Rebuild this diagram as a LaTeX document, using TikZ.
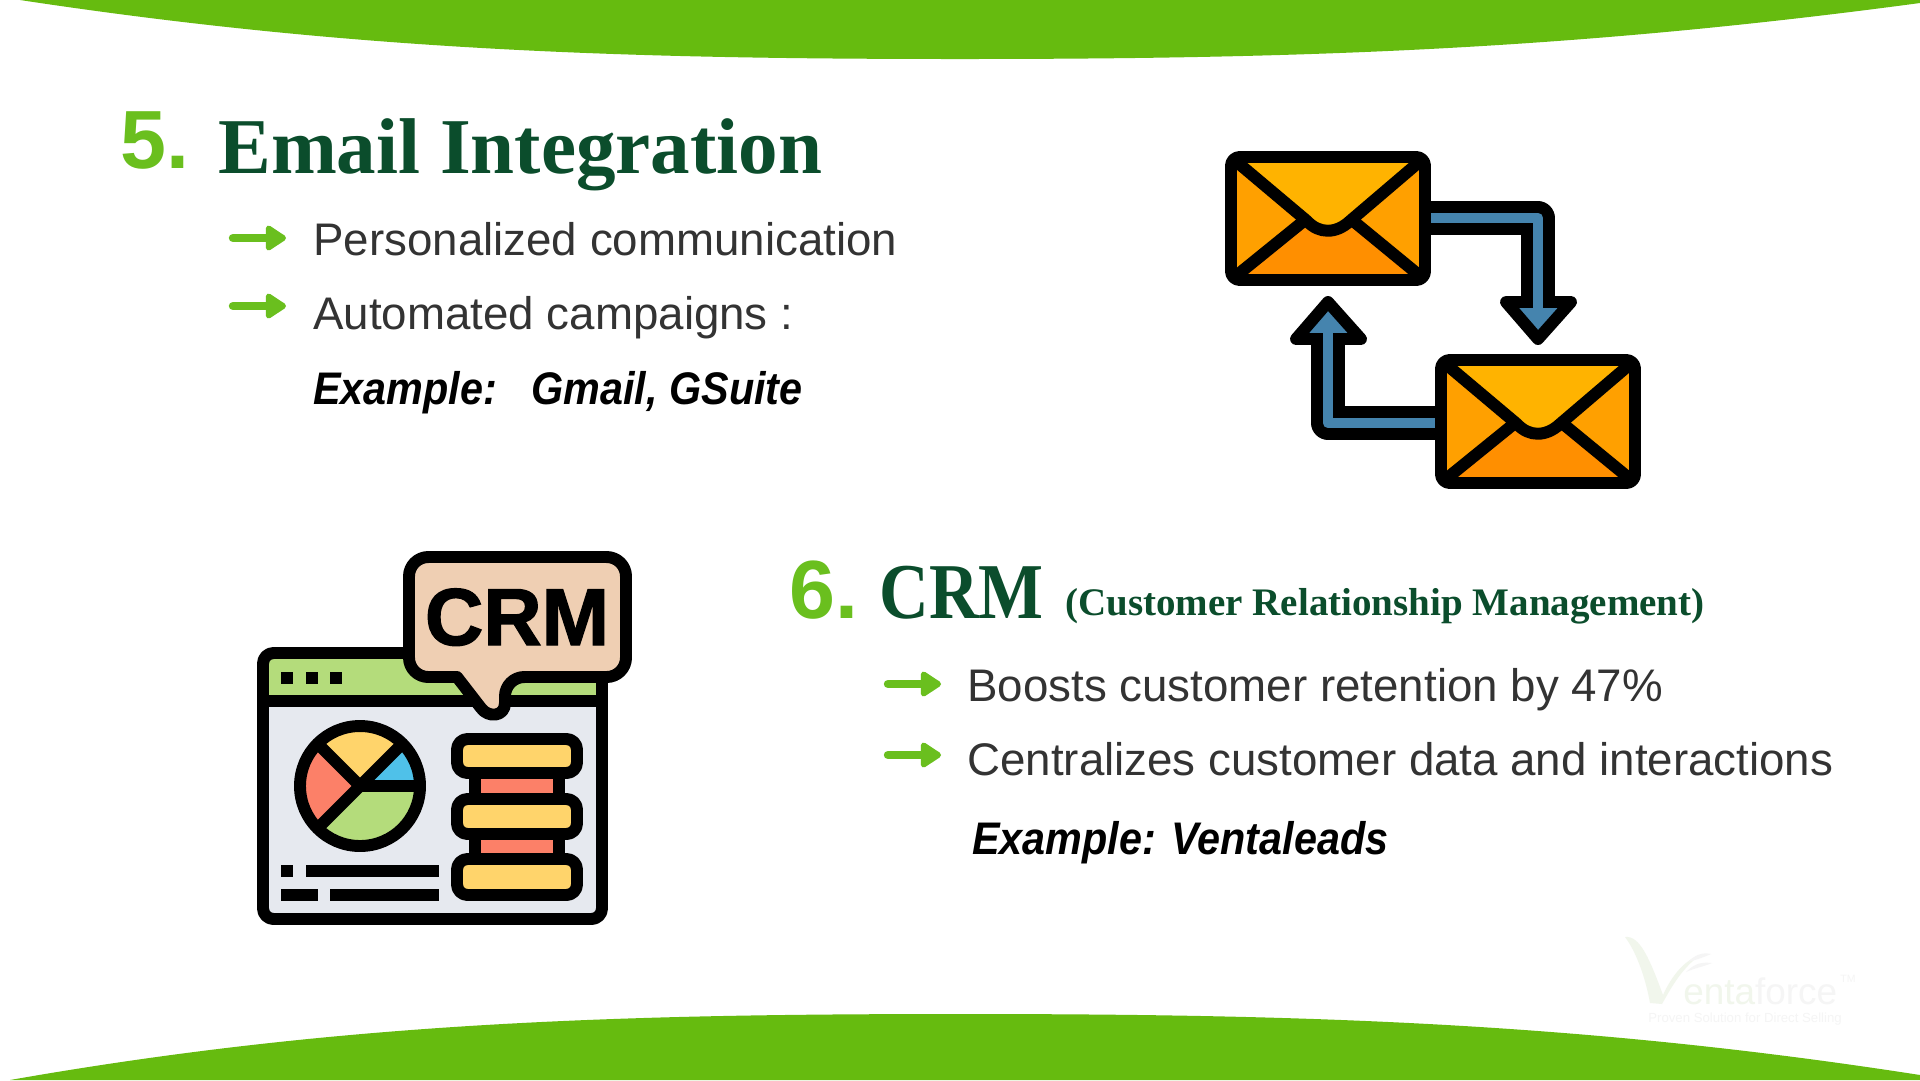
\documentclass[tikz,border=0pt]{standalone}
\usepackage{fontspec}
\usetikzlibrary{arrows.meta}
\setmainfont{Liberation Sans}
\newfontfamily\titlefont{Liberation Serif}
\newfontfamily\crmfont[FakeStretch=0.87]{Liberation Serif}
\newfontfamily\examplefont[FakeStretch=0.905]{Liberation Sans}
\newfontfamily\bubblefont[FakeBold=1.6]{Liberation Sans}

\definecolor{bandgreen}{HTML}{66BB0F}
\definecolor{numgreen}{HTML}{6ABF1E}
\definecolor{titlegreen}{HTML}{0B4D2C}
\definecolor{bodygrey}{HTML}{333333}
\definecolor{flaptop}{HTML}{FFB300}
\definecolor{flapside}{HTML}{FFA000}
\definecolor{flapbottom}{HTML}{FF8F00}
\definecolor{arrowblue}{HTML}{4584AE}
\definecolor{barlime}{HTML}{B4DC7B}
\definecolor{panelgrey}{HTML}{E6E9EF}
\definecolor{bubblepeach}{HTML}{EFCFB3}
\definecolor{stackyellow}{HTML}{FFD46B}
\definecolor{stackred}{HTML}{FC8068}
\definecolor{pieblue}{HTML}{4FC1E9}
\definecolor{markgreen}{HTML}{F1F6EC}
\definecolor{markgrey}{HTML}{F5F5F5}

\tikzset{
  every node/.style={inner sep=0pt},
  icon/.style={draw=black, line width=6.8pt, line join=round},
  numtext/.style={anchor=base west, text=numgreen, font=\bfseries\fontsize{47}{47}\selectfont},
  headtext/.style={anchor=base west, text=titlegreen, font=\titlefont\bfseries\fontsize{45}{45}\selectfont},
  crmtext/.style={anchor=base west, text=titlegreen, font=\crmfont\bfseries\fontsize{45}{45}\selectfont},
  subtext/.style={anchor=base west, text=titlegreen, font=\titlefont\bfseries\fontsize{22.2}{22.2}\selectfont},
  bodytext/.style={anchor=base west, text=bodygrey, font=\fontsize{26}{26}\selectfont},
  exampletext/.style={anchor=base west, text=black, font=\examplefont\bfseries\itshape\fontsize{26}{26}\selectfont},
  bulletarrow/.style={draw=numgreen, line width=4.8pt, line cap=round,
    -{Triangle[length=13pt,width=16pt,round]}},
  stem/.style={draw=black, line width=19pt, line join=round},
  stemcore/.style={draw=arrowblue, line width=6pt, line join=round},
  pill/.style={icon, fill=stackyellow, rounded corners=6pt}
}

% one envelope, corner of its outline at #1
\newcommand{\envelope}[1]{
  \begin{scope}[shift={#1}]
    \fill[flapside] (0,0) rectangle (194,123);
    \fill[flaptop] (0,0) -- (76,64) .. controls (88,77) and (105,77) .. (119,64) -- (194,0) -- cycle;
    \fill[flapbottom] (0,123) -- (74,63) .. controls (88,77) and (105,77) .. (121,63) -- (194,123) -- cycle;
    \draw[icon, fill=none] (0,0) -- (76,64) .. controls (88,77) and (105,77) .. (119,64) -- (194,0);
    \draw[icon] (0,123) -- (74,63);
    \draw[icon] (194,123) -- (121,63);
    \draw[icon, rounded corners=5pt] (0,0) rectangle (194,123);
  \end{scope}
}

\begin{document}
\begin{tikzpicture}[x=0.02cm, y=-0.02cm]

    \useasboundingbox (0,0) rectangle (1920,1080);
    \fill[white] (0,0) rectangle (1920,1080);

    % --- Green bands ---
    \fill[bandgreen] (20,0) .. controls (350,50) and (620,59) .. (960,59)
        .. controls (1300,59) and (1570,50) .. (1920,3) -- (1920,0) -- cycle;
    \fill[bandgreen] (10,1080) .. controls (340,1022) and (620,1014) .. (960,1014)
        .. controls (1300,1014) and (1580,1022) .. (1920,1075) -- (1920,1080) -- cycle;

    % --- Section 5 ---
    \node[numtext] (numfive) at (120,168) {5.};
    \node[headtext] (headfive) at (218,173) {Email Integration};

    \coordinate (bulletAs) at (233,238);
    \coordinate (bulletAe) at (286,238);
    \coordinate (bulletBs) at (233,306);
    \coordinate (bulletBe) at (286,306);
    \draw[bulletarrow] (bulletAs) -- (bulletAe);
    \draw[bulletarrow] (bulletBs) -- (bulletBe);

    \node[bodytext] (personal) at (313,255) {Personalized communication};
    \node[bodytext] (campaigns) at (313,329) {Automated campaigns :};
    \node[exampletext] (gmail) at (313,404) {Example:\ \ \ Gmail, GSuite};

    % --- Section 6 ---
    \node[numtext] (numsix) at (789,618) {6.};
    \node[crmtext] (headsix) at (879,618) {CRM};
    \node[subtext] (subsix) at (1065,615) {(Customer Relationship Management)};

    \coordinate (bulletCs) at (888,684);
    \coordinate (bulletCe) at (941,684);
    \coordinate (bulletDs) at (888,755);
    \coordinate (bulletDe) at (941,755);
    \draw[bulletarrow] (bulletCs) -- (bulletCe);
    \draw[bulletarrow] (bulletDs) -- (bulletDe);

    \node[bodytext] (boosts) at (967,701) {Boosts customer retention by 47\%};
    \node[bodytext] (central) at (967,775) {Centralizes customer data and interactions};
    \node[exampletext] (venta) at (972,854) {Example: Ventaleads};

    % --- Envelope icon ---
    % arrow from the upper envelope to the lower one
    \coordinate (swapAs) at (1425,218);
    \coordinate (swapAc) at (1538,218);
    \coordinate (swapAe) at (1538,307);
    \coordinate (swapAt) at (1538,313);
    \draw[icon, fill=arrowblue] (1506,302) -- (1571,302) -- (1538,339) -- cycle;
    \draw[stem] (swapAs) -- (swapAc) -- (swapAe);
    \draw[stemcore] (swapAs) -- (swapAc) -- (swapAt);

    % arrow from the lower envelope to the upper one
    \coordinate (swapBs) at (1441,423);
    \coordinate (swapBc) at (1328,423);
    \coordinate (swapBe) at (1328,334);
    \coordinate (swapBt) at (1328,328);
    \draw[icon, fill=arrowblue] (1296,339) -- (1361,339) -- (1328,302) -- cycle;
    \draw[stem] (swapBs) -- (swapBc) -- (swapBe);
    \draw[stemcore] (swapBs) -- (swapBc) -- (swapBt);

    \envelope{(1231,157)}
    \envelope{(1441,360)}

    % --- CRM icon ---
    % window
    \fill[panelgrey, rounded corners=6pt] (263,653) rectangle (602,919);
    \fill[barlime, rounded corners=6pt] (263,653) rectangle (602,710);
    \fill[panelgrey] (263,701) rectangle (602,725);
    \draw[icon, rounded corners=6pt] (263,653) rectangle (602,919);
    \draw[icon] (263,701) -- (602,701);
    \foreach \dotx in {281,306,330}
        \fill (\dotx,672) rectangle +(12,12);

    % pie
    \begin{scope}[shift={(360,786)}, yscale=-1]
        \fill[stackyellow] (0,0) -- (135:60) arc[start angle=135, end angle=45, radius=60] -- cycle;
        \fill[pieblue] (0,0) -- (45:60) arc[start angle=45, end angle=0, radius=60] -- cycle;
        \fill[barlime] (0,0) -- (0:60) arc[start angle=0, end angle=-135, radius=60] -- cycle;
        \fill[stackred] (0,0) -- (225:60) arc[start angle=225, end angle=135, radius=60] -- cycle;
        \draw[icon] (0,0) circle[radius=60];
        \draw[icon] (135:60) -- (0,0) -- (45:60);
        \draw[icon] (225:60) -- (0,0) -- (0:60);
    \end{scope}

    % stack
    \draw[icon, fill=stackred] (475,773) rectangle (559,799);
    \draw[icon, fill=stackred] (475,834) rectangle (559,859);
    \draw[pill] (457,739) rectangle (577,773);
    \draw[pill] (457,799) rectangle (577,834);
    \draw[pill] (457,859) rectangle (577,895);

    % text lines
    \fill (281,865) rectangle (293,877);
    \fill (306,865) rectangle (439,877);
    \fill (281,889) rectangle (318,901);
    \fill (330,889) rectangle (439,901);

    % speech bubble
    \draw[icon, fill=bubblepeach] (457,677) [rounded corners=11pt] -- (409,677) -- (409,557)
        -- (626,557) -- (626,677) -- (505,677) [sharp corners] -- (505,703)
        .. controls (505,717) and (488,718) .. (481,708) -- cycle;
    \node[anchor=base, font=\bubblefont\bfseries\fontsize{46}{46}\selectfont] (crmlabel) at (517,645) {CRM};

    % --- Watermark ---
    \fill[markgreen] (1625,937) .. controls (1640,935) and (1650,960) .. (1663,995)
        .. controls (1672,975) and (1685,960) .. (1700,955)
        .. controls (1680,970) and (1670,990) .. (1662,1004) -- (1650,1003)
        .. controls (1645,975) and (1635,950) .. (1625,937) -- cycle;
    \fill[markgrey] (1688,962) .. controls (1695,955) and (1702,952) .. (1711,954)
        .. controls (1702,958) and (1695,960) .. (1688,962) -- cycle;
    \fill[markgrey] (1686,972) .. controls (1695,963) and (1702,962) .. (1712,963)
        .. controls (1702,967) and (1695,968) .. (1686,972) -- cycle;
    \node[anchor=base west, font=\fontsize{21}{21}\selectfont] (markname) at (1683,1004)
        {\textcolor{markgreen}{enta}\textcolor{markgrey}{force}};
    \node[anchor=base west, text=markgrey, font=\fontsize{6}{6}\selectfont] (marktm) at (1840,982) {TM};
    \node[anchor=base west, text=markgrey, font=\fontsize{7.5}{7.5}\selectfont] (marktag) at (1648,1022)
        {Proven Solution for Direct Selling};

\end{tikzpicture}
\end{document}
